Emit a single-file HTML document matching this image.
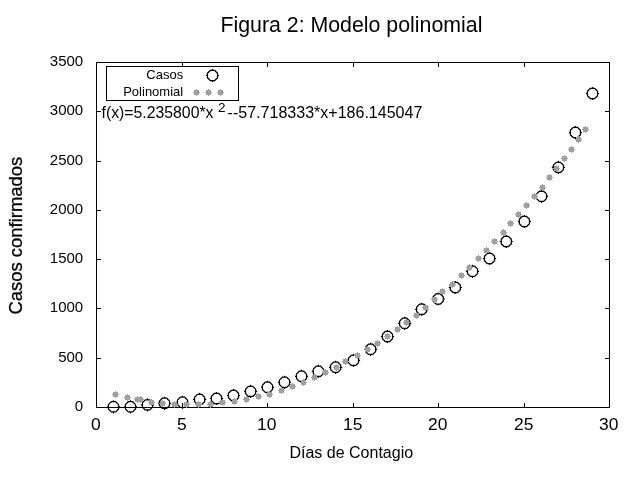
<!DOCTYPE html>
<html><head><meta charset="utf-8"><title>Figura 2</title>
<style>
html,body{margin:0;padding:0;background:#fff;}
body{width:640px;height:480px;overflow:hidden;}
svg{display:block;will-change:transform;}
text{font-family:"Liberation Sans",sans-serif;fill:#000;}
.ax{stroke:#000;stroke-width:1;fill:none;shape-rendering:crispEdges;}
.c{stroke:#000;stroke-width:1.25;fill:none;}
.d{fill:#a0a0a0;shape-rendering:crispEdges;}
</style></head><body>
<svg width="640" height="480" viewBox="0 0 640 480">
<rect x="0" y="0" width="640" height="480" fill="#fff"/>
<defs>
<g id="pc"><path class="c" d="M-2.2-5.05H2.2L5.05-2.2V2.2L2.2 5.05H-2.2L-5.05 2.2V-2.2Z" stroke-linejoin="round"/><path d="M0-5.2V-6.6M0 5.2V6.6M-5.2 0H-6.6M5.2 0H6.6" stroke="#000" stroke-width="1.2" fill="none"/></g>
<g id="pd"><rect class="d" x="-2.5" y="-2.5" width="5" height="5"/><rect class="d" x="-3.5" y="-0.5" width="7" height="1"/><rect class="d" x="-0.5" y="-3.5" width="1" height="7"/></g>
</defs>
<text x="351.4" y="31.5" font-size="21.33" text-anchor="middle">Figura 2: Modelo polinomial</text>
<rect class="ax" x="96.5" y="62.5" width="513" height="345"/>
<path class="ax" d="M182.5 407V403M182.5 63V67M267.5 407V403M267.5 63V67M353.5 407V403M353.5 63V67M438.5 407V403M438.5 63V67M524.5 407V403M524.5 63V67M97 358.5H101M609 358.5H605M97 308.5H101M609 308.5H605M97 259.5H101M609 259.5H605M97 210.5H101M609 210.5H605M97 161.5H101M609 161.5H605M97 111.5H101M609 111.5H605"/>
<text x="83.2" y="410.6" font-size="15" text-anchor="end">0</text>
<text x="83.2" y="361.6" font-size="15" text-anchor="end">500</text>
<text x="83.2" y="311.6" font-size="15" text-anchor="end">1000</text>
<text x="83.2" y="262.6" font-size="15" text-anchor="end">1500</text>
<text x="83.2" y="213.6" font-size="15" text-anchor="end">2000</text>
<text x="83.2" y="164.6" font-size="15" text-anchor="end">2500</text>
<text x="83.2" y="114.6" font-size="15" text-anchor="end">3000</text>
<text x="83.2" y="65.6" font-size="15" text-anchor="end">3500</text>
<text transform="translate(95.8 429.8) scale(1.09 1)" font-size="16" text-anchor="middle">0</text>
<text transform="translate(181.8 429.8) scale(1.09 1)" font-size="16" text-anchor="middle">5</text>
<text transform="translate(266.8 429.8) scale(1.09 1)" font-size="16" text-anchor="middle">10</text>
<text transform="translate(352.8 429.8) scale(1.09 1)" font-size="16" text-anchor="middle">15</text>
<text transform="translate(437.8 429.8) scale(1.09 1)" font-size="16" text-anchor="middle">20</text>
<text transform="translate(523.8 429.8) scale(1.09 1)" font-size="16" text-anchor="middle">25</text>
<text transform="translate(608.8 429.8) scale(1.09 1)" font-size="16" text-anchor="middle">30</text>
<text x="351.3" y="457.5" font-size="16" text-anchor="middle">Días de Contagio</text>
<text transform="translate(21.85 235.65) rotate(-90) scale(0.971 1)" font-size="19" text-anchor="middle" stroke="#000" stroke-width="0.3">Casos confirmados</text>
<rect class="ax" x="106.5" y="66.5" width="132" height="34"/>
<text x="183.2" y="78.8" font-size="13" text-anchor="end">Casos</text>
<text x="183.2" y="95.9" font-size="13" text-anchor="end">Polinomial</text>
<use href="#pc" x="212.5" y="75.5"/>
<use href="#pd" x="196.5" y="92.5"/>
<use href="#pd" x="208.5" y="92.5"/>
<use href="#pd" x="220.5" y="92.5"/>
<text x="101.5" y="117.5" font-size="15.8">f(x)=5.235800*x</text>
<text x="217.9" y="111.9" font-size="13.5">2</text>
<text x="227.6" y="117.5" font-size="16.05">--57.718333*x+186.145047</text>
<use href="#pc" x="113.5" y="406.8"/>
<use href="#pc" x="130.5" y="406.8"/>
<use href="#pc" x="147.5" y="404.9"/>
<use href="#pc" x="164.5" y="403.3"/>
<use href="#pc" x="182.5" y="402.3"/>
<use href="#pc" x="199.6" y="399.4"/>
<use href="#pc" x="216.5" y="398.5"/>
<use href="#pc" x="233.5" y="395.5"/>
<use href="#pc" x="250.6" y="391.4"/>
<use href="#pc" x="267.5" y="387.3"/>
<use href="#pc" x="284.5" y="382.3"/>
<use href="#pc" x="301.5" y="376.3"/>
<use href="#pc" x="318.4" y="371.3"/>
<use href="#pc" x="335.6" y="367.3"/>
<use href="#pc" x="353.5" y="360.4"/>
<use href="#pc" x="370.6" y="349.3"/>
<use href="#pc" x="387.5" y="336.5"/>
<use href="#pc" x="404.7" y="323.3"/>
<use href="#pc" x="421.7" y="309.3"/>
<use href="#pc" x="438.2" y="299.0"/>
<use href="#pc" x="455.3" y="287.5"/>
<use href="#pc" x="472.5" y="271.3"/>
<use href="#pc" x="489.5" y="258.5"/>
<use href="#pc" x="506.3" y="241.5"/>
<use href="#pc" x="524.4" y="221.5"/>
<use href="#pc" x="541.5" y="196.3"/>
<use href="#pc" x="558.4" y="167.4"/>
<use href="#pc" x="575.4" y="132.5"/>
<use href="#pc" x="592.5" y="93.5"/>
<use href="#pd" x="115.5" y="394.5"/>
<use href="#pd" x="127.5" y="397.5"/>
<use href="#pd" x="137.5" y="399.5"/>
<use href="#pd" x="140.5" y="399.5"/>
<use href="#pd" x="151.5" y="402.5"/>
<use href="#pd" x="162.5" y="403.5"/>
<use href="#pd" x="174.5" y="404.5"/>
<use href="#pd" x="186.5" y="404.5"/>
<use href="#pd" x="198.5" y="404.5"/>
<use href="#pd" x="210.5" y="404.5"/>
<use href="#pd" x="222.5" y="402.5"/>
<use href="#pd" x="234.5" y="401.5"/>
<use href="#pd" x="246.5" y="399.5"/>
<use href="#pd" x="258.5" y="396.5"/>
<use href="#pd" x="269.5" y="394.5"/>
<use href="#pd" x="281.5" y="390.5"/>
<use href="#pd" x="292.5" y="386.5"/>
<use href="#pd" x="303.5" y="382.5"/>
<use href="#pd" x="314.5" y="377.5"/>
<use href="#pd" x="325.5" y="372.5"/>
<use href="#pd" x="336.5" y="367.5"/>
<use href="#pd" x="345.5" y="361.5"/>
<use href="#pd" x="357.5" y="355.5"/>
<use href="#pd" x="367.5" y="349.5"/>
<use href="#pd" x="377.5" y="343.5"/>
<use href="#pd" x="387.5" y="336.5"/>
<use href="#pd" x="397.5" y="329.5"/>
<use href="#pd" x="406.5" y="322.5"/>
<use href="#pd" x="416.5" y="315.5"/>
<use href="#pd" x="425.5" y="307.5"/>
<use href="#pd" x="434.5" y="299.5"/>
<use href="#pd" x="442.5" y="291.5"/>
<use href="#pd" x="452.5" y="284.5"/>
<use href="#pd" x="461.5" y="275.5"/>
<use href="#pd" x="469.5" y="267.5"/>
<use href="#pd" x="478.5" y="258.5"/>
<use href="#pd" x="486.5" y="250.5"/>
<use href="#pd" x="494.5" y="241.5"/>
<use href="#pd" x="503.5" y="232.5"/>
<use href="#pd" x="510.5" y="223.5"/>
<use href="#pd" x="518.5" y="214.5"/>
<use href="#pd" x="526.5" y="205.5"/>
<use href="#pd" x="534.5" y="196.5"/>
<use href="#pd" x="542.5" y="187.5"/>
<use href="#pd" x="549.5" y="177.5"/>
<use href="#pd" x="556.5" y="168.5"/>
<use href="#pd" x="564.5" y="158.5"/>
<use href="#pd" x="571.5" y="149.5"/>
<use href="#pd" x="578.5" y="139.5"/>
<use href="#pd" x="585.5" y="129.5"/>
</svg>
</body></html>
